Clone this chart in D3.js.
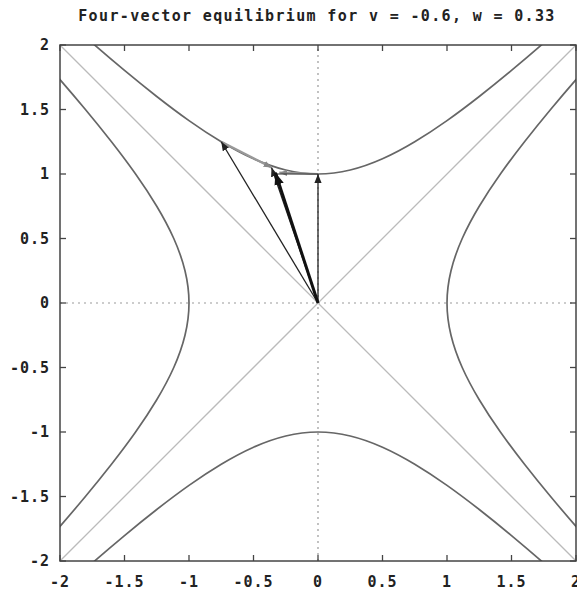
<!DOCTYPE html>
<html><head><meta charset="utf-8">
<script src="https://cdn.jsdelivr.net/npm/d3@7"></script>
<style>body{margin:0;background:#fff}svg{display:block}</style>
</head><body>
<script>
// ---- data ----
const title = "Four-vector equilibrium for v = -0.6, w = 0.33";
const xTicks = [-2, -1.5, -1, -0.5, 0, 0.5, 1, 1.5, 2];
const yTicks = [-2, -1.5, -1, -0.5, 0, 0.5, 1, 1.5, 2];
// hyperbola branch samples: u along the branch, h = distance from axis
const branchU = [-2, -1.75, -1.5, -1.25, -1, -0.75, -0.5, -0.25, 0, 0.25, 0.5, 0.75, 1, 1.25, 1.5, 1.75, 2];
const branchH = [2.236, 2.016, 1.803, 1.601, 1.414, 1.25, 1.118, 1.031, 1, 1.031, 1.118, 1.25, 1.414, 1.601, 1.803, 2.016, 2.236];
const diagonals = [[[-2, -2], [2, 2]], [[-2, 2], [2, -2]]];
// vectors from the origin [x, y]
const thinVectors = [[0, 1], [-0.75, 1.25], [-0.36, 1.05]];
const boldVector = [-0.33, 1.01];
// connecting vectors between tips [from, to]
const grayLinks = [[[-0.75, 1.25], [-0.36, 1.05]], [[0, 1], [-0.3, 1.01]]];
const darkLinks = [[[0, 1], [-0.33, 1.0]]];

// ---- layout ----
const W = 577, H = 592;
const m = {left: 60, right: 1, top: 45, bottom: 31};
const svg = d3.select("body").append("svg").attr("width", W).attr("height", H);
const x = d3.scaleLinear().domain([-2, 2]).range([m.left, W - m.right]);
const y = d3.scaleLinear().domain([-2, 2]).range([H - m.bottom, m.top]);
const font = "'DejaVu Sans Mono', monospace";

const defs = svg.append("defs");
defs.append("clipPath").attr("id", "clip").append("rect")
  .attr("x", m.left).attr("y", m.top).attr("width", x(2) - x(-2)).attr("height", y(-2) - y(2));
function marker(id, color, size) {
  defs.append("marker").attr("id", id).attr("viewBox", "0 -5 10 10")
    .attr("refX", 10).attr("refY", 0).attr("markerWidth", size).attr("markerHeight", size)
    .attr("markerUnits", "userSpaceOnUse").attr("orient", "auto")
    .append("path").attr("d", "M0,-4L10,0L0,4Z").attr("fill", color);
}
marker("ah", "#222", 9);
marker("ahb", "#111", 12);
marker("ahg", "#888", 8);

const g = svg.append("g").attr("clip-path", "url(#clip)");

// zero axes dotted
g.append("line").attr("x1", x(-2)).attr("x2", x(2)).attr("y1", y(0)).attr("y2", y(0))
  .attr("stroke", "#999").attr("stroke-width", 1.2).attr("stroke-dasharray", "2,4");
g.append("line").attr("x1", x(0)).attr("x2", x(0)).attr("y1", y(-2)).attr("y2", y(2))
  .attr("stroke", "#999").attr("stroke-width", 1.2).attr("stroke-dasharray", "2,4");

// diagonals
g.selectAll(".diag").data(diagonals).join("line")
  .attr("x1", d => x(d[0][0])).attr("y1", d => y(d[0][1]))
  .attr("x2", d => x(d[1][0])).attr("y2", d => y(d[1][1]))
  .attr("stroke", "#bbb").attr("stroke-width", 1.3);

// hyperbola branches
const line = d3.line().x(d => x(d[0])).y(d => y(d[1])).curve(d3.curveNatural);
const brTop = branchU.map((u, i) => [u, branchH[i]]);
const brBottom = branchU.map((u, i) => [u, -branchH[i]]);
const brRight = branchU.map((u, i) => [branchH[i], u]);
const brLeft = branchU.map((u, i) => [-branchH[i], u]);
g.selectAll(".hyp").data([brTop, brBottom, brRight, brLeft]).join("path")
  .attr("d", line).attr("fill", "none").attr("stroke", "#666").attr("stroke-width", 1.7);

// links
g.selectAll(".gl").data(grayLinks).join("line")
  .attr("x1", d => x(d[0][0])).attr("y1", d => y(d[0][1]))
  .attr("x2", d => x(d[1][0])).attr("y2", d => y(d[1][1]))
  .attr("stroke", "#999").attr("stroke-width", 2.2).attr("marker-end", "url(#ahg)");
g.selectAll(".dl").data(darkLinks).join("line")
  .attr("x1", d => x(d[0][0])).attr("y1", d => y(d[0][1]))
  .attr("x2", d => x(d[1][0])).attr("y2", d => y(d[1][1]))
  .attr("stroke", "#333").attr("stroke-width", 1.2);

// vectors
g.selectAll(".tv").data(thinVectors).join("line")
  .attr("x1", x(0)).attr("y1", y(0))
  .attr("x2", d => x(d[0])).attr("y2", d => y(d[1]))
  .attr("stroke", "#222").attr("stroke-width", 1.3).attr("marker-end", "url(#ah)");
g.append("line").attr("x1", x(0)).attr("y1", y(0))
  .attr("x2", x(boldVector[0])).attr("y2", y(boldVector[1]))
  .attr("stroke", "#111").attr("stroke-width", 3).attr("marker-end", "url(#ahb)");

// frame
svg.append("rect").attr("x", m.left).attr("y", m.top)
  .attr("width", x(2) - x(-2)).attr("height", y(-2) - y(2))
  .attr("fill", "none").attr("stroke", "#444").attr("stroke-width", 1.5);

// ticks (inward, all four sides)
const tl = 6;
const tk = svg.append("g").attr("stroke", "#444").attr("stroke-width", 1.3);
xTicks.forEach(t => {
  tk.append("line").attr("x1", x(t)).attr("x2", x(t)).attr("y1", y(-2)).attr("y2", y(-2) - tl);
  tk.append("line").attr("x1", x(t)).attr("x2", x(t)).attr("y1", y(2)).attr("y2", y(2) + tl);
});
yTicks.forEach(t => {
  tk.append("line").attr("y1", y(t)).attr("y2", y(t)).attr("x1", x(-2)).attr("x2", x(-2) + tl);
  tk.append("line").attr("y1", y(t)).attr("y2", y(t)).attr("x1", x(2)).attr("x2", x(2) - tl);
});

// labels
svg.selectAll(".xl").data(xTicks).join("text")
  .attr("x", d => x(d)).attr("y", H - 5).attr("text-anchor", "middle")
  .attr("font-family", font).attr("font-size", 15).attr("font-weight", "bold").attr("fill", "#222")
  .attr("letter-spacing", "1px")
  .text(d => d);
svg.selectAll(".yl").data(yTicks).join("text")
  .attr("x", m.left - 10).attr("y", d => y(d) + 5).attr("text-anchor", "end")
  .attr("font-family", font).attr("font-size", 15).attr("font-weight", "bold").attr("fill", "#222")
  .attr("letter-spacing", "1px")
  .text(d => d);
svg.append("text").attr("x", 317).attr("y", 21).attr("text-anchor", "middle")
  .attr("font-family", font).attr("font-size", 15).attr("font-weight", "bold").attr("fill", "#222")
  .attr("letter-spacing", "1.35px")
  .text(title);
</script>
</body></html>
